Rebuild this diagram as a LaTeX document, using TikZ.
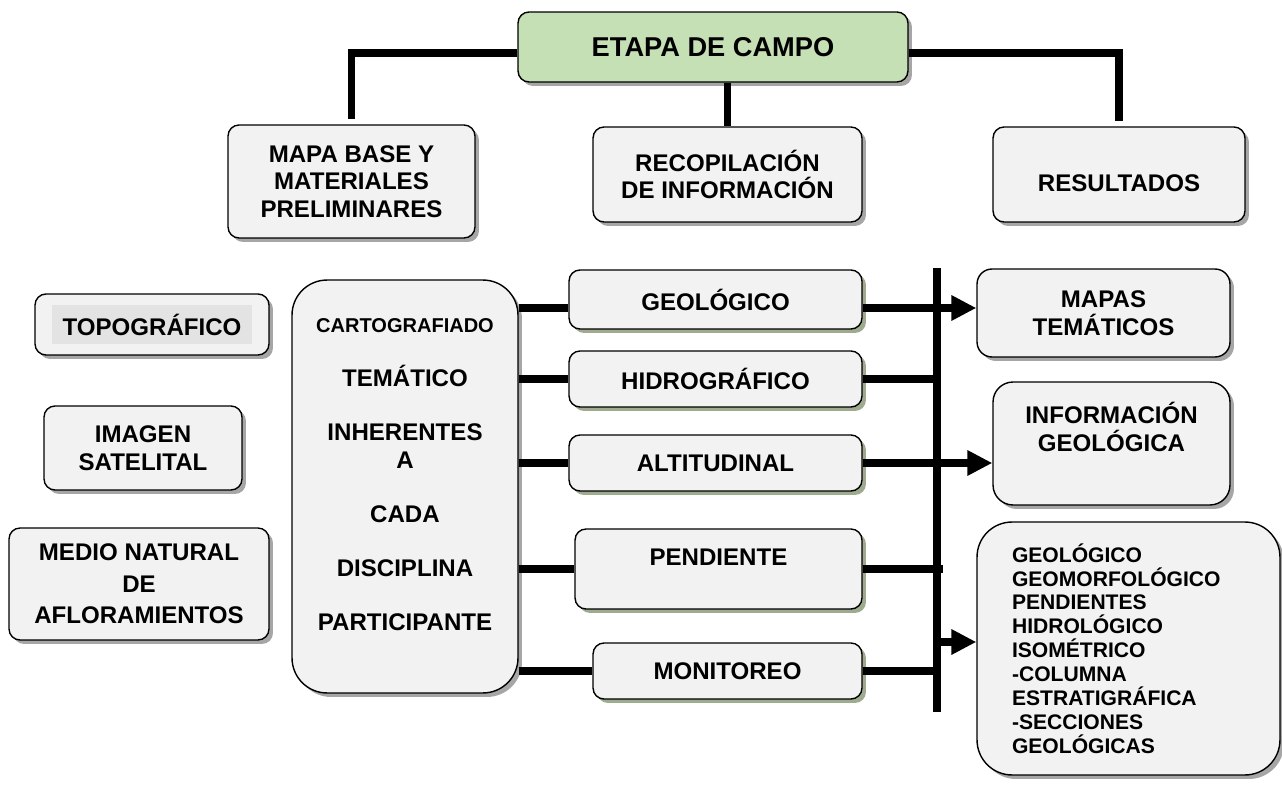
\documentclass[tikz,border=0pt]{standalone}
\usepackage{fontspec}
\setmainfont{Liberation Sans}
\usetikzlibrary{arrows.meta,shadows}

\definecolor{verdeclaro}{HTML}{C5E0B4}
\definecolor{grisclaro}{HTML}{F2F2F2}
\definecolor{sombragris}{HTML}{A6A6A6}
\definecolor{sombraverde}{HTML}{9EAB8F}
\definecolor{resalte}{HTML}{E3E3E3}

\tikzset{
  caja/.style={draw, line width=0.8pt, fill=grisclaro, rounded corners=0.22cm,
    align=center, inner sep=0pt, font=\fontsize{13.7}{15.8}\selectfont\bfseries},
  sombra/.style={drop shadow={shadow xshift=0.08cm, shadow yshift=-0.08cm,
    opacity=1, fill=#1}},
  sombra/.default=sombragris,
  conector/.style={line width=4pt},
  flecha/.style={conector, -{Triangle[length=0.5cm,width=0.48cm]}}
}

\begin{document}
\begin{tikzpicture}[x=0.02cm, y=-0.02cm]
  \useasboundingbox (0,0) rectangle (1282,797);

  % nivel superior
  \node (etapa) at (713,47) [caja, sombra, fill=verdeclaro, minimum width=7.8cm, minimum height=1.4cm,
    font=\fontsize{15.5}{18}\selectfont\bfseries] {ETAPA DE CAMPO};
  \node (mapa) at (351.5,181.5) [caja, sombra, minimum width=4.94cm, minimum height=2.26cm]
    {MAPA BASE Y\\MATERIALES\\PRELIMINARES};
  \node (recop) at (727.5,174.5) [caja, sombra, minimum width=5.38cm, minimum height=1.9cm]
    {RECOPILACIÓN\\DE INFORMACIÓN};
  \node (result) at (1119,174.5) [caja, sombra, minimum width=5.04cm, minimum height=1.9cm,
    text height=0.7cm] {RESULTADOS};

  \draw[conector] ([yshift=-0.12cm]etapa.west) -| ([yshift=0.1cm]mapa.north);
  \draw[conector] ([yshift=-0.12cm]etapa.east) -| ([yshift=0.1cm]result.north);
  \draw[conector] (recop.north |- etapa.south) -- (recop.north);

  % materiales
  \node (topo) at (152,324.5) [caja, sombra, minimum width=4.68cm, minimum height=1.22cm]
    {\setlength{\fboxsep}{5pt}\colorbox{resalte}{\hspace{1pt}TOPOGRÁFICO\hspace{1pt}}};
  \node (imagen) at (143,448) [caja, sombra, minimum width=3.96cm, minimum height=1.68cm]
    {IMAGEN\\SATELITAL};
  \node (medio) at (139,584) [caja, sombra, minimum width=5.2cm, minimum height=2.24cm,
    font=\fontsize{13.7}{18}\selectfont\bfseries] {MEDIO NATURAL\\DE\\AFLORAMIENTOS};

  % cartografiado
  \node (carto) at (405,486.5) [caja, sombra, rounded corners=0.7cm, minimum width=4.52cm,
    minimum height=8.26cm, text depth=0.48cm]
    {{\fontsize{11.4}{13}\selectfont CARTOGRAFIADO}\\[15pt]TEMÁTICO\\[15pt]INHERENTES\\A\\[15pt]CADA\\[15pt]DISCIPLINA\\[15pt]PARTICIPANTE};

  \node (geo) at (715.5,299.5) [caja, sombra=sombraverde, minimum width=5.86cm, minimum height=1.18cm] {GEOLÓGICO};
  \node (hidro) at (715.5,379) [caja, sombra=sombraverde, minimum width=5.86cm, minimum height=1.12cm] {HIDROGRÁFICO};
  \node (alti) at (715.5,463) [caja, sombra=sombraverde, minimum width=5.86cm, minimum height=1.12cm] {ALTITUDINAL};
  \node (pend) at (718.5,569) [caja, sombra=sombraverde, minimum width=5.74cm, minimum height=1.6cm,
    text depth=0.48cm] {PENDIENTE};
  \node (moni) at (727.5,671) [caja, sombra=sombraverde, minimum width=5.38cm, minimum height=1.12cm] {MONITOREO};

  % resultados
  \node (mapas) at (1103.5,313) [caja, sombra, minimum width=5.06cm, minimum height=1.76cm,
    rounded corners=0.3cm] {MAPAS\\TEMÁTICOS};
  \node (info) at (1111.5,443.5) [caja, sombra, minimum width=4.74cm, minimum height=2.46cm,
    rounded corners=0.4cm, text depth=0.68cm] {INFORMACIÓN\\GEOLÓGICA};
  \node (lista) at (1128.5,648.5) [caja, sombra, minimum width=6.06cm, minimum height=5.06cm,
    rounded corners=0.7cm, align=left, text width=4.66cm,
    font=\fontsize{12}{13.6}\selectfont\bfseries]
    {GEOLÓGICO\\GEOMORFOLÓGICO\\PENDIENTES\\HIDROLÓGICO\\ISOMÉTRICO\\-COLUMNA\\ESTRATIGRÁFICA\\-SECCIONES\\GEOLÓGICAS};

  % conectores
  \coordinate (barra1) at (937,268);
  \coordinate (barra2) at (937,712);
  \coordinate (g) at ([yshift=-0.17cm]geo.west);
  \coordinate (l) at ([yshift=0.13cm]lista.west);
  \draw[conector] (barra1) -- (barra2);

  \draw[conector] (g -| carto.east) -- (g);
  \draw[conector] (carto.east |- hidro.west) -- (hidro.west);
  \draw[conector] (carto.east |- alti.west) -- (alti.west);
  \draw[conector] (carto.east |- pend.west) -- (pend.west);
  \draw[conector] (carto.east |- moni.west) -- (moni.west);

  \draw[flecha] (g -| geo.east) -- (g -| mapas.west);
  \draw[conector] (hidro.east) -- (hidro.east -| barra1);
  \draw[flecha] (alti.east) -- (alti.east -| info.west);
  \draw[conector] (pend.east) -- ([xshift=0.12cm]pend.east -| barra1);
  \draw[conector] (moni.east) -- (moni.east -| barra1);
  \draw[flecha] (l -| barra1) -- (l);
\end{tikzpicture}
\end{document}
